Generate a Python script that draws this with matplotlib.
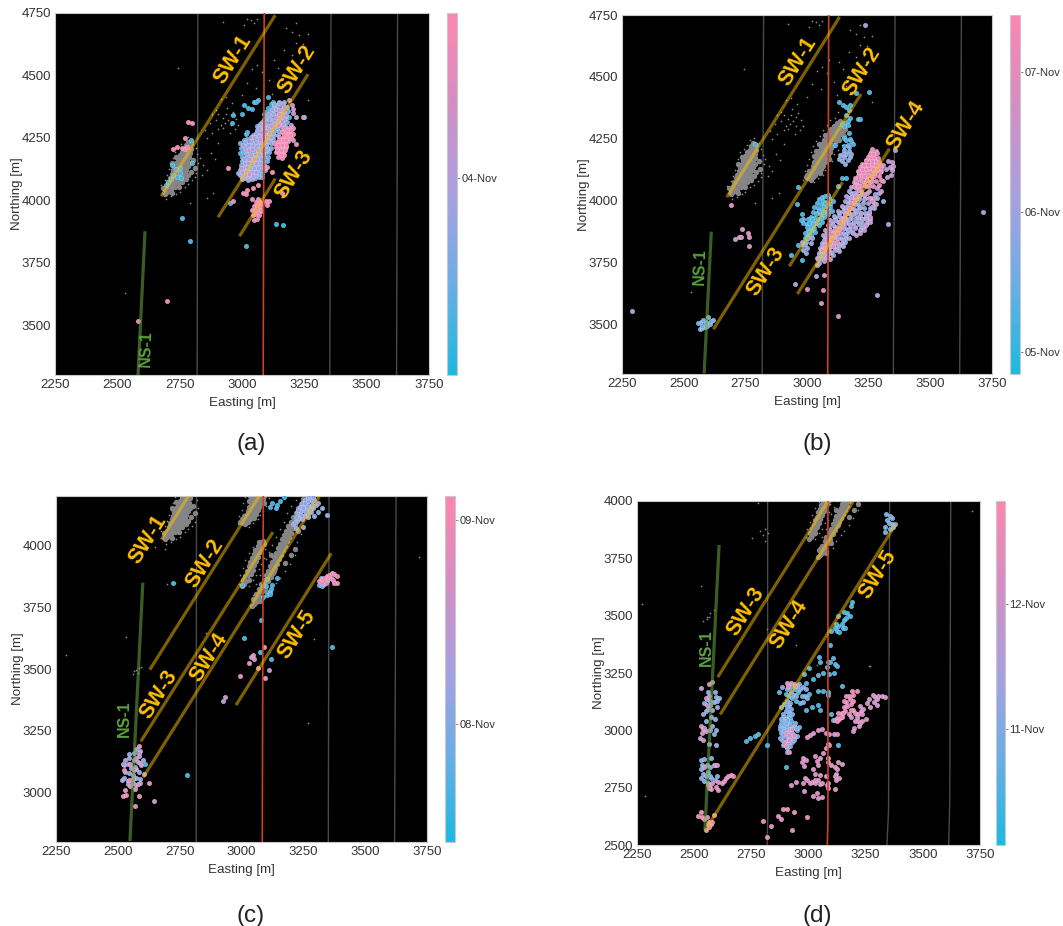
import matplotlib
matplotlib.use("Agg")
import matplotlib.pyplot as plt
from matplotlib.colors import LinearSegmentedColormap, Normalize
from matplotlib.cm import ScalarMappable

plt.rcParams['font.family'] = ['Liberation Sans', 'DejaVu Sans']
W, H = 1063, 926

# earlier events, drawn as small grey dots
grey_sw1 = [(2692,4040),(2700,4035),(2698,4060),(2708,4052),(2715,4045),(2705,4075),(2716,4070),(2725,4062),(2732,4055),
    (2712,4090),(2722,4085),(2733,4078),(2742,4070),(2718,4105),(2730,4100),(2740,4092),(2750,4085),(2725,4120),(2736,4115),
    (2746,4108),(2756,4100),(2765,4095),(2728,4135),(2740,4130),(2750,4122),(2760,4115),(2770,4108),(2735,4150),(2746,4145),
    (2756,4138),(2766,4130),(2776,4122),(2742,4165),(2752,4160),(2762,4152),(2772,4145),(2782,4138),(2750,4180),(2760,4172),
    (2770,4166),(2780,4158),(2790,4150),(2758,4195),(2768,4188),(2778,4180),(2788,4172),(2770,4205),(2780,4198),(2790,4190),
    (2775,4220),(2785,4212),(2795,4205),(2782,4232),(2795,4225),(2690,4025),(2685,4050),(2720,4030),(2748,4055),(2775,4085),
    (2795,4115),(2805,4160),(2735,4175),(2720,4150),(2810,4130),(2785,4100),(2758,4075)]
grey_sw1_fringe = [(2680,4030),(2675,4060),(2690,4080),(2700,4100),(2708,4125),(2715,4145),(2722,4170),(2730,4195),(2745,4210),(2755,4225),(2768,4245),
    (2785,4255),(2805,4235),(2815,4210),(2820,4185),(2825,4150),(2812,4095),(2800,4080),(2785,4065),(2770,4055),(2750,4035),(2735,4025),(2715,4015),(2695,4005)]
grey_far = [(2830,4170),(2845,4140),(2860,4120),(2875,4190),(2890,4165),(2815,4110),(2840,4100),(2905,4230),(2860,4250),(2850,4280),
    (2880,4270),(2870,4310),(2895,4320),(2905,4285),(2915,4300),(2925,4330),(2935,4345),(2945,4320),(2955,4300),(2925,4290),
    (2940,4370),(2955,4340),(2965,4355),(2975,4325),(2960,4390),(2915,4405),(2895,4360),(2985,4300),(2935,4415),(2950,4270),
    (2880,4345),(2905,4345),(2930,4310),(2970,4285),(2885,4030),(2860,4010),(2790,3990),(2745,4530)]
grey_top = [(2925,4715),(3020,4725),(3035,4720),(3050,4710),(3060,4725),(3010,4700),(3175,4690),(3215,4710),(3200,4675),
    (3230,4660),(3265,4665),(3215,4630),(3245,4625),(3170,4600),(3130,4560),(3060,4540),(3040,4525),(3080,4515),(3110,4480),
    (3020,4470),(3000,4420),(3145,4530),(3185,4520),(3240,4560),(3055,4450),(3090,4570),(3160,4465),(3120,4425),(3200,4580),(2530,3630),(3265,4400)]
grey_sw2 = [(3005,4090),(3015,4085),(3025,4095),(3012,4105),(3022,4110),(3033,4105),(3020,4125),(3030,4122),(3042,4118),(3052,4112),
    (3025,4140),(3036,4138),(3048,4132),(3058,4128),(3030,4155),(3042,4152),(3053,4148),(3065,4142),(3038,4170),(3050,4166),
    (3060,4160),(3072,4155),(3042,4185),(3055,4180),(3066,4175),(3078,4170),(3050,4200),(3062,4195),(3074,4190),(3085,4183),
    (3055,4215),(3068,4210),(3080,4205),(3092,4198),(3062,4230),(3074,4225),(3086,4220),(3098,4212),(3070,4245),(3082,4240),
    (3094,4234),(3106,4226),(3080,4260),(3092,4255),(3104,4248),(3116,4240),(3088,4275),(3100,4268),(3112,4262),(3124,4255),
    (3098,4288),(3110,4282),(3122,4275),(3134,4268),(3108,4300),(3120,4295),(3132,4288),(3144,4280),(3120,4312),(3132,4306),
    (3144,4300),(3155,4290),(3135,4322),(3148,4315),(3160,4308),(3048,4125),(3010,4120),(3000,4105),(3030,4180),(3070,4170),
    (3090,4170),(3110,4225),(3050,4230),(3075,4265),(3128,4245),(3150,4262),(3035,4200),(2995,4095)]
grey_sw2_fringe = [(2985,4085),(2990,4120),(3000,4145),(3008,4170),(3015,4195),(3025,4220),(3038,4240),(3052,4262),(3065,4285),(3082,4305),(3095,4325),(3115,4335),(3125,4360),
    (3170,4330),(3175,4300),(3165,4275),(3155,4240),(3140,4225),(3125,4205),(3110,4190),(3100,4160),(3085,4140),(3075,4125),(3065,4105),(3045,4090),(3030,4075)]
grey_sw3 = [(3002,3835),(3012,3845),(3008,3860),(3020,3858),(3030,3862),(3016,3878),(3028,3880),(3038,3885),(3022,3895),(3034,3900),
    (3045,3902),(3030,3915),(3042,3918),(3052,3922),(3036,3932),(3048,3935),(3060,3938),(3042,3950),(3054,3952),(3066,3955),
    (3050,3966),(3062,3970),(3074,3972),(3056,3982),(3068,3986),(3080,3988),(3065,3998),(3078,4002),(3090,4005),(3072,4012),(3085,4018)]
grey_sw4 = [(3042,3755),(3050,3765),(3058,3772),(3048,3785),(3060,3788),(3070,3795),(3060,3805),(3072,3810),(3084,3815),(3070,3825),
    (3084,3830),(3096,3835),(3078,3845),(3092,3850),(3106,3855),(3090,3862),(3104,3868),(3118,3872),(3098,3880),(3112,3886),
    (3126,3890),(3106,3898),(3120,3904),(3134,3908),(3114,3916),(3128,3922),(3142,3926),(3122,3934),(3136,3940),(3150,3944),
    (3132,3952),(3146,3958),(3160,3962),(3140,3970),(3154,3976),(3168,3980),(3148,3988),(3162,3994),(3176,3998),(3156,4006),
    (3170,4012),(3184,4016),(3164,4024),(3178,4030),(3192,4034),(3172,4042),(3186,4048),(3200,4052),(3180,4060),(3194,4066),
    (3208,4070),(3190,4078),(3204,4084),(3218,4088),(3200,4096),(3214,4102),(3228,4106),(3210,4114),(3224,4120),(3238,4124),
    (3220,4132),(3234,4138),(3248,4142),(3230,4150),(3244,4156),(3258,4160),(3240,4168),(3254,4174),(3268,4178),(3250,4186),
    (3264,4192),(3278,4196),(3130,3895),(3175,3930),(3200,3960),(3215,3985),(3100,3815),(3075,3775),(3150,3990),(3120,3960),(3230,4060)]
grey_sw34_fringe = [(2990,3845),(2995,3880),(3005,3910),(3015,3940),(3030,3970),(3045,3995),(3095,3985),(3090,3950),(3080,3925),(3070,3905),(3058,3880),(3045,3860),
    (3030,3835),(3035,3760),(3045,3800),(3060,3845),(3075,3880),(3085,3915),(3100,3945),(3110,3975),(3125,4000),(3140,4035),(3155,4065),(3170,4095),(3185,4130),
    (3200,4160),(3220,4185),(3235,4205),(3290,4175),(3280,4145),(3265,4110),(3250,4080),(3240,4045),(3225,4015),(3215,3960),(3195,3925),(3175,3895),(3155,3870),(3140,3850),(3120,3825),(3105,3795),(3085,3780)]
grey_c_extra = [(2535,3630),(2290,3555),(2730,3850),(2700,3845),(2565,3490),(2575,3495),(2585,3505),(2595,3510),(2560,3480),(2580,3485),
    (3267,3280),(3718,3955),(3295,3620),(2855,3645),(2690,3985),(2650,3995)]
grey_d_extra = [(2270,3550),(2285,2715),(2530,3630),(2540,3475),(2555,3485),(2565,3495),(2570,3510),(2585,3525),(2555,3495),(2810,3880),(2825,3860),
    (2790,3870),(2755,3840),(2800,3850),(2810,3825),(3267,3280),(2820,3440),(2945,3370),(2920,3555),(3265,3280),(3035,3285),(3715,3955),(2780,3990)]

# (a) coloured events
a_main = [(3000,4085),(3012,4088),(3024,4082),(3040,4086),(2992,4100),(3005,4098),(3018,4102),(3030,4100),(3045,4097),(3058,4103),
    (3000,4115),(3015,4117),(3028,4113),(3042,4116),(3055,4114),(3005,4130),(3020,4132),(3035,4128),(3050,4131),(3065,4129),
    (3012,4150),(3025,4148),(3040,4152),(3056,4149),(3072,4151),(3010,4165),(3030,4167),(3045,4163),(3060,4166),(3078,4164),
    (3018,4185),(3035,4183),(3052,4187),(3068,4184),(3085,4186),(3015,4200),(3030,4202),(3048,4198),(3065,4201),(3082,4199),(3098,4203),
    (3005,4220),(3025,4222),(3042,4218),(3060,4221),(3078,4219),(3095,4222),(3012,4235),(3035,4237),(3055,4233),(3072,4236),(3090,4234),(3105,4238),
    (3035,4255),(3050,4253),(3068,4257),(3085,4254),(3102,4256),(3118,4252),(3055,4270),(3075,4272),(3092,4268),(3110,4271),(3125,4269),
    (3070,4290),(3088,4288),(3105,4292),(3122,4289),(3140,4291),(3072,4305),(3090,4307),(3108,4303),(3128,4306),(3148,4304),(3165,4307),
    (3090,4325),(3110,4327),(3130,4323),(3150,4326),(3170,4324),(3105,4345),(3125,4347),(3142,4343),(3160,4346),(3120,4365),(3135,4367),(3155,4363),(3130,4385),(3148,4388)]
a_fill = [(2998,4092),(3034,4092),(3052,4091),(3068,4094),(3080,4092),(2985,4108),(3010,4109),(3024,4107),(3038,4108),(3052,4106),(3068,4109),(3082,4107),
    (2990,4122),(3008,4123),(3022,4121),(3036,4122),(3049,4124),(3062,4121),(3078,4123),(3092,4122),(2995,4140),(3012,4141),(3028,4139),(3043,4140),(3058,4142),(3074,4139),(3090,4140),
    (2998,4158),(3018,4157),(3034,4159),(3050,4158),(3066,4156),(3084,4158),(3100,4159),(3000,4175),(3022,4176),(3040,4174),(3056,4175),(3072,4177),(3090,4174),(3105,4175),
    (3005,4192),(3026,4193),(3044,4191),(3060,4192),(3076,4194),(3092,4191),(3108,4192),(2995,4210),(3012,4211),(3034,4209),(3054,4210),(3070,4212),(3088,4209),(3106,4210),(3116,4211),
    (2990,4228),(3016,4229),(3032,4227),(3050,4228),(3068,4230),(3086,4227),(3100,4228),(3118,4229),(3020,4245),(3042,4246),(3062,4244),(3078,4245),(3094,4247),(3112,4244),(3125,4245),
    (3045,4262),(3060,4263),(3078,4261),(3095,4262),(3110,4264),(3130,4261),(3145,4262),(3060,4280),(3082,4281),(3100,4279),(3118,4280),(3135,4282),(3150,4279),(3165,4280),
    (3062,4298),(3080,4299),(3098,4297),(3116,4298),(3136,4300),(3155,4297),(3172,4298),(3080,4315),(3100,4316),(3120,4314),(3140,4315),(3160,4317),(3180,4314),
    (3098,4335),(3118,4336),(3140,4334),(3158,4335),(3178,4337),(3112,4355),(3130,4356),(3150,4354),(3170,4355),(3185,4357),(3128,4375),(3145,4376),(3165,4374),(3180,4375),(3150,4395),(3170,4393)]
a_mauve = [(3030,4105),(3050,4165),(3040,4205),(3072,4245),(3095,4278),(3115,4298),(3135,4335),(3150,4360),(3165,4385),(3175,4340),(3160,4318),
    (3190,4400),(3200,4380),(3205,4365),(3203,4350),(3195,4300),(3205,4290),(3215,4335),(3245,4335),(3205,4240),(2995,4130),(3170,4375)]
a_pink = [(3135,4195),(3150,4190),(3165,4195),(3135,4215),(3150,4212),(3165,4210),(3178,4215),(3140,4235),(3155,4232),(3170,4230),(3185,4238),
    (3150,4255),(3165,4250),(3180,4255),(3195,4250),(3160,4272),(3175,4270),(3190,4272),(3205,4265),(3170,4290),(3185,4288),(3145,4175),(3160,4170),(3170,4180),
    (3142,4200),(3158,4202),(3172,4200),(3145,4222),(3160,4222),(3175,4222),(3148,4243),(3163,4241),(3178,4243),(3192,4262),(3170,4260),(3183,4280),(3198,4280),(3155,4180),
    (3130,4230),(3150,4345),(3145,4300),(3100,4135),(3120,4115),(3090,4130),(3065,4060),(3045,4050),(3020,4040),(3005,4030),(2965,3995),(3015,4025),(2945,4130),(3160,4030),(3215,4225)]
a_pink2 = [(3050,3920),(3060,3925),(3045,3940),(3055,3945),(3068,3940),(3040,3960),(3052,3962),(3065,3960),(3078,3955),(3048,3978),(3060,3980),(3072,3975),
    (3058,3992),(3070,3995),(3082,3990),(3065,4005),(3095,3995),(3110,3995),(3100,3982),(3075,3960),(2725,4205),(2740,4215),(2760,4210),(2770,4205),(2785,4315),(2800,4308),(2780,4215),(2770,4250)]
a_iso_pink = [(2700,3595),(2583,3515),(3040,4005)]
a_sky = [(2695,4060),(2705,4075),(2715,4085),(2725,4100),(2740,4095),(2755,4090),(2750,4110),(2735,4125),(2720,4140),(2750,4130),(2800,4150),(2795,4240),
    (2950,3990),(2760,3928),(2792,3838),(3015,3815),(3135,3905),(3165,3900),(3105,4415),(3065,4400),(3050,4395),(3058,4395),(3025,4370),(3010,4380),(3040,4365),(3000,4345),(2965,4340),(2960,4310),
    (3070,4260),(3015,4265),(3020,4275),(3010,4240),(2990,4190),(3080,4310),(3090,4345),(3248,4335)]
a_blue = [(3095,4355),(3105,4370),(3115,4385),(3125,4395),(3135,4380),(3150,4330),(3165,4325),(3175,4330),(3188,4335),(3110,4340),(3120,4320)]

# (b) coloured events
b_sw3 = [(2985,3820),(2995,3835),(2990,3850),(3005,3848),(3000,3865),(3015,3862),(3005,3880),(3020,3880),(3032,3875),(2985,3910),(3000,3905),(3015,3895),(3030,3890),
    (2985,3925),(3005,3925),(3020,3915),(3035,3908),(3048,3900),(3015,3935),(3030,3930),(3045,3925),(3060,3915),(3025,3955),(3040,3950),(3055,3945),(3070,3935),
    (3030,3975),(3045,3970),(3060,3965),(3075,3955),(3085,3945),(3040,3990),(3055,3985),(3070,3980),(3085,3970),(3100,3960),(3050,4005),(3065,4000),(3080,3995),(3095,3985),
    (3060,4015),(3075,4018),(3090,4010),(3105,4000),(3085,4022),(2980,3945),(2975,3920),(2960,3985),(2935,3780),(2965,3820),(2980,3760),(2965,4055),
    (3000,3895),(3010,3910),(3025,3905),(3040,3915),(3055,3930),(3070,3945),(3085,3960),(3065,3955),(3050,3960),(3035,3945),(3020,3925),(3010,3875),(2998,3850),(2990,3870),(3075,3990),(3095,3975)]
b_sw3_peri = [(2985,3800),(3000,3810),(3015,3830),(2995,3790),(3020,3850),(2990,3825)]
b_main = [(3040,3740),(3050,3750),(3045,3765),(3060,3765),(3070,3755),(3050,3780),(3065,3782),(3080,3775),(3055,3800),(3070,3800),(3090,3790),(3105,3780),
    (3060,3820),(3075,3820),(3095,3815),(3115,3800),(3130,3795),(3070,3840),(3090,3840),(3110,3830),(3130,3820),(3145,3815),(3065,3860),(3085,3860),(3105,3855),(3125,3850),(3145,3840),
    (3075,3880),(3095,3880),(3115,3875),(3135,3870),(3155,3860),(3170,3850),(3085,3900),(3105,3900),(3125,3895),(3145,3890),(3165,3880),(3185,3870),(3095,3920),(3115,3920),(3135,3915),
    (3155,3910),(3175,3900),(3195,3890),(3215,3880),(3110,3940),(3130,3940),(3150,3935),(3170,3925),(3190,3915),(3210,3905),(3230,3895),(3125,3960),(3145,3960),(3165,3950),(3185,3945),
    (3205,3935),(3225,3925),(3140,3980),(3160,3975),(3180,3970),(3200,3960),(3220,3950),(3240,3940),(3155,4000),(3175,3995),(3195,3985),(3215,3975),(3160,4020),(3180,4015),(3200,4005),
    (3170,4040),(3190,4030),(3210,4020),(3230,4005),(3180,4055),(3200,4050),(3220,4040),(3190,4075),(3210,4065)]
b_fill = [(3042,3770),(3055,3772),(3075,3768),(3048,3790),(3062,3792),(3078,3788),(3098,3791),(3052,3810),(3068,3812),(3088,3808),(3108,3811),(3125,3809),
    (3060,3830),(3082,3832),(3104,3828),(3122,3831),(3140,3829),(3155,3832),(3072,3850),(3095,3852),(3116,3848),(3136,3851),(3158,3849),(3082,3870),(3104,3872),(3125,3868),(3146,3871),(3164,3869),(3182,3872),
    (3090,3890),(3112,3892),(3135,3888),(3156,3891),(3175,3889),(3195,3892),(3220,3890),(3100,3910),(3125,3912),(3146,3908),(3168,3911),(3186,3909),(3205,3912),(3225,3910),(3245,3908),
    (3115,3930),(3138,3932),(3160,3928),(3180,3931),(3200,3929),(3220,3932),(3240,3930),(3255,3928),(3130,3950),(3155,3952),(3176,3948),(3195,3951),(3215,3949),(3235,3952),(3252,3950),
    (3148,3970),(3170,3972),(3190,3968),(3210,3971),(3232,3969),(3255,3972),(3270,3970),(3165,3990),(3185,3992),(3205,3988),(3228,3991),(3248,3989),(3270,3992),
    (3170,4010),(3190,4012),(3212,4008),(3235,4011),(3260,4009),(3285,4012),(3178,4030),(3200,4032),(3222,4028),(3245,4031),(3275,4029)]
b_main_pink = [(3060,3800),(3075,3810),(3085,3825),(3095,3830),(3085,3800),(3100,3845),(3110,3860),(3120,3870),(3130,3885),(3105,3815),(3120,3835),(3140,3905),(3150,3925),
    (3165,3960),(3180,3990),(3195,4020),(3210,4045),(3220,4060),(3200,4070),(3215,4085),(3230,4075),(3240,4060),(3195,4090),(3210,4105),(3225,4100),(3240,4090),(3255,4075),
    (3205,4120),(3220,4120),(3235,4115),(3250,4105),(3265,4095),(3215,4135),(3230,4135),(3245,4130),(3260,4120),(3275,4110),(3225,4150),(3240,4150),(3255,4145),(3270,4135),(3285,4125),
    (3240,4165),(3255,4165),(3270,4155),(3285,4145),(3250,4180),(3265,4180),(3280,4170),(3260,4195),(3272,4190),(3265,4208),(3278,4200),(3230,4025),(3250,4010),(3265,4000),(3250,4040),
    (3190,4060),(3205,4060),(3235,4062),(3250,4058),(3268,4060),(3290,4062),(3200,4080),(3222,4080),(3245,4082),(3262,4078),(3280,4080),(3300,4082),(3205,4100),(3232,4100),(3248,4102),(3270,4098),(3290,4100),
    (3212,4115),(3228,4115),(3255,4117),(3272,4113),(3295,4115),(3222,4130),(3238,4130),(3252,4132),(3268,4128),(3282,4130),(3300,4132),(3232,4145),(3248,4145),(3262,4147),(3278,4143),(3295,4145),
    (3240,4160),(3262,4160),(3278,4162),(3292,4158),(3248,4175),(3258,4175),(3272,4177),(3288,4173),(3255,4190),(3268,4190),(3282,4192),
    (3080,3840),(3100,3865),(3115,3885),(3135,3915),(3155,3945),(3170,3970),(3190,4000)]
b_side = [(3200,3860),(3215,3870),(3230,3880),(3240,3900),(3255,3915),(3240,3925),(3255,3935),(3250,3955),(3265,3975),(3280,3985),(3270,4010),(3290,4030),(3300,4040),(3285,4050),
    (3310,4080),(3325,4095),(3340,4105),(3345,4125),(3335,4135),(3350,4140),(3310,4145),(3320,4130),(3300,4120),(3330,4160),(3345,4155)]
b_top = [(3130,4400),(3145,4385),(3160,4380),(3175,4385),(3170,4365),(3160,4345),(3175,4335),(3165,4320),(3150,4300),(3165,4305),(3140,4310),(3170,4275),(3150,4255),
    (3160,4245),(3175,4250),(3185,4230),(3170,4215),(3150,4220),(3205,4330),(3215,4330),(3250,4440),(3200,4435),(3180,4240),(2790,4230),(3115,4225),(3140,4090),(3160,4090),(3125,4060)]
b_small = [(3130,4170),(3140,4160),(3150,4175),(3160,4190),(3170,4200),(3155,4150),(3165,4165),(3175,4175),(3135,4185),(3145,4190),(3150,4205),(3180,4190),(3165,4225)]
b_ns = [(2565,3480),(2575,3485),(2585,3490),(2595,3495),(2605,3500),(2570,3510),(2575,3495),(2590,3510),(2560,3505),(2580,3520),(2600,3530),(2620,3520),(2590,3505),(2610,3515)]
b_iso_peri = [(2290,3555),(3235,4710),(3715,3955),(3330,3905),(3285,3620),(2950,3665),(3035,3695),(3355,4205),(2707,3845),(3310,4000),(2980,3835)]
b_iso_pink = [(2690,3982),(2723,3855),(2732,3855),(2737,3885),(2760,3870),(2765,3855),(2763,3815),(3125,3535),(3055,3585),(3065,3640),(3000,3645),(3070,3700),(3092,3765)]

# (c) coloured events
c_ns = [(2515,3050),(2525,3060),(2540,3045),(2530,3085),(2545,3080),(2560,3070),(2575,3060),(2590,3055),(2525,3110),(2540,3115),(2555,3100),(2575,3095),(2595,3110),
    (2530,3130),(2545,3140),(2565,3130),(2580,3125),(2600,3130),(2545,3155),(2565,3160),(2585,3150),(2590,3170),(2575,3175),(2540,3035),(2560,3040),(2575,3030),(2590,3040),(2570,3105),(2585,3085)]
c_ns_pink = [(2520,2985),(2535,2990),(2530,3010),(2550,3025),(2570,3015),(2580,3035),(2525,3090),(2585,2985),(2570,2945),(2625,3040),(2585,3190),(2550,3115),(2565,3090),(2575,3140),(2590,3120),(2545,3050)]
c_iso_mauve = [(2645,2965),(2935,3385),(2925,3370),(3110,3495),(3040,3550),(3050,3540),(2585,3160),(2605,3075),(2560,3055),(2520,3115)]
c_iso_pink = [(2995,3470),(3030,3525),(3065,3505),(3090,3590),(3095,3465),(3045,3555)]
c_iso_blue = [(2780,3070),(3120,3540),(3075,3570),(3010,3625),(3080,3700),(3365,3590),(2725,3850),(2610,3115),(3000,3840)]
c_low = [(3085,3790),(3105,3800),(3115,3810),(3120,3825),(3100,3835),(3085,3840),(3125,3840),(3145,3870),(3105,3865),(3115,3805)]
c_top_blue = [(3115,4155),(3140,4150),(3145,4165),(3155,4180),(3170,4195),(3125,4170)]
c_top = [(3210,4085),(3225,4100),(3235,4120),(3245,4105),(3225,4135),(3240,4140),(3255,4125),(3270,4115),(3235,4155),(3250,4160),(3265,4145),(3280,4135),(3245,4170),(3260,4175),(3275,4160),(3290,4150),
    (3255,4185),(3270,4190),(3285,4178),(3300,4165),(3275,4200),(3295,4185),(3325,4150),(3345,4125),(3310,4135),(3295,4120),(3220,4070),(3250,4075),(3310,4170),(3280,4210),
    (3215,4095),(3230,4110),(3250,4115),(3260,4135),(3240,4125),(3250,4150),(3270,4125),(3265,4160),(3280,4150),(3255,4170),(3270,4180),(3285,4165),(3290,4195),(3230,4145),(3220,4115),(3275,4145)]
c_sw5 = [(3315,3855),(3325,3865),(3335,3870),(3345,3875),(3355,3880),(3365,3890),(3330,3850),(3340,3850),(3350,3865),(3360,3870),(3375,3885),(3385,3875),(3370,3860),(3385,3850),(3375,3850)]
c_sw5_blue = [(3315,3840),(3325,3835),(3335,3845),(3345,3855),(3320,3870)]

# (d) coloured events
d_main_blue = [(2880,3100),(2895,3115),(2905,3130),(2915,3150),(2930,3140),(2945,3130),(2925,3165),(2940,3180),(2920,3190),(2935,3200),(2915,3080),(2925,3095),(2890,3070),(2905,3060),(2920,3055),
    (2895,3040),(2910,3035),(2925,3040),(2880,3030),(2955,3165),(2965,3120),(2970,3150),(2895,3020),(2915,3015),(2935,3020),(2950,3000),(2960,3015)]
d_main = [(2885,3010),(2900,3000),(2915,2995),(2930,2990),(2880,2990),(2895,2975),(2910,2970),(2925,2965),(2885,2960),(2900,2950),(2915,2945),(2930,2950),(2905,2925),(2920,2930),(2900,3085),(2915,3110),(2905,2905),
    (2940,2970),(2950,2975),(2890,2935),(2960,3200),(2975,3190),(2985,3150),(2990,3180),(2965,3180),(2995,3140),(2975,3125),(2950,3195),(2905,3180),(2885,3190),(2905,3020),(2890,3005),(2875,2965),
    (2890,3060),(2900,3050),(2915,3070),(2930,3070),(2905,3100),(2920,3120),(2935,3155),(2945,3150),(2900,3030),(2880,3050),(2875,3020),(2895,2995),(2925,3015),(2940,3030),(2945,3010),(2905,2990),(2920,2975),(2935,2960),(2890,2985),(2875,3005),(2905,3045),(2920,3025)]
d_main_pink = [(2900,2990),(2915,2980),(2905,2960),(2920,3005),(2895,2945),(2915,2960),(2930,3005),(2910,3195),(2925,3205),(2940,3195),(2905,3205),(2915,2905),(2900,2930),(2935,2980)]
d_blue_up = [(3100,3435),(3115,3445),(3125,3435),(3135,3430),(3150,3445),(3160,3445),(3130,3455),(3145,3465),(3155,3480),(3165,3490),(3180,3500),(3170,3510),(3155,3515),(3130,3500),(3190,3560),(3185,3540),(3120,3465),
    (3095,3370),(3045,3320),(3050,3300),(3065,3250),(3085,3300),(3095,3300),(3105,3315),(3115,3290),(3125,3280),(3110,3250),(3090,3245),(3080,3275),(3040,3240),(3020,3225),(3000,3270),(2980,3245),(2990,3205),(3000,3160),(3040,3170),(3065,3170),
    (3085,3165),(3145,3195),(3040,3110),(3015,3100),(2990,3090),(3085,3155),(3100,3070),(3105,3045),(3050,3090),(2780,2985),(2765,2975),(2745,2965),(2725,2955),(2820,2935),(3130,2935),(2870,3165),(2900,2840),(2900,3160)]
d_peach = [(3115,3045),(3125,3055),(3135,3050),(3145,3060),(3130,3075),(3145,3075),(3160,3085),(3175,3070),(3155,3100),(3170,3105),(3185,3115),(3165,3125),(3180,3135),(3195,3130),(3155,3130),(3175,3150),(3195,3155),(3210,3170),(3190,3170),
    (3165,3150),(3150,3075),(3125,3040),(3140,3060),(3195,3090),(3205,3040),(3220,3020),(3235,3040),(3215,3070),(3230,3085),(3205,3075),(3185,3090)]
d_chain = [(3200,3010),(3215,3040),(3225,3030),(3210,3060),(3235,3070),(3240,3095),(3225,3105),(3270,3100),(3255,3120),(3265,3135),(3280,3155),(3290,3145),(3300,3135),(3285,3125),(3305,3150),(3320,3150),(3335,3145),(3300,3110),(3185,3060),(3250,3050),(3195,2995)]
d_ns1 = [(2540,3070),(2550,3085),(2560,3095),(2570,3110),(2545,3120),(2555,3135),(2570,3130),(2585,3125),(2595,3145),(2610,3140),(2600,3130),(2575,3060),(2590,3050),(2580,3020),(2595,3000),(2585,2985),(2570,3000),(2565,2940),(2595,2935),(2550,3040),(2600,3100),(2590,3165),(2560,3165)]
d_ns1_pink = [(2530,3020),(2540,3005),(2550,2995),(2545,3010),(2535,2990),(2525,2965),(2565,3200),(2580,3210),(2530,3185),(2550,3140),(2565,3150),(2540,2960),(2555,3110),(2580,3090)]
d_ns2 = [(2530,2870),(2545,2875),(2535,2850),(2530,2830),(2540,2810),(2550,2800),(2560,2820),(2570,2840),(2585,2850),(2555,2850),(2575,2880),(2545,2780),(2560,2770),(2575,2790),(2590,2785),(2600,2800),(2530,2790),(2570,2800)]
d_ns2_pink = [(2545,2840),(2560,2760),(2570,2760),(2575,2745),(2565,2750),(2590,2850),(2600,2850),(2580,2770)]
d_low = [(2515,2625),(2530,2645),(2535,2620),(2545,2615),(2555,2620),(2565,2600),(2575,2590),(2560,2590),(2580,2600),(2585,2630),(2550,2565),(2565,2580),
    (2620,2770),(2630,2780),(2640,2790),(2650,2800),(2660,2805),(2670,2800),(2605,2775),(2605,2740),(2595,2755),
    (2905,2655),(2890,2655),(2935,2645),(2865,2625),(2880,2615),(2995,2620),(2800,2605),(2835,2585),(2820,2535),(2930,2565)]
d_scatter = [(2975,2880),(2970,2860),(2980,2845),(2990,2870),(3030,2890),(3035,2865),(3050,2880),(3065,2900),(3085,2940),(3075,2925),(3090,2935),(3040,2850),(3020,2830),(3030,2810),(3050,2805),(3085,2880),(3085,2860),(3100,2850),
    (3115,2840),(3125,2830),(3130,2860),(3145,2855),(3120,2785),(3135,2790),(3120,2810),(3115,2800),(2985,2790),(2995,2785),(3005,2770),(3015,2775),(3030,2770),(3040,2785),(3050,2765),(3060,2770),(3080,2760),(3085,2750),(3115,2745),
    (2925,2760),(2945,2775),(2975,2770),(2980,2735),(3020,2715),(3035,2725),(3040,2705),(3060,2710),(3030,2785),(3075,2990),(3090,2985),(3110,2985),(3125,2985),(3060,3005),(3040,3000),(3020,2990),(3005,2980),(2995,2970),(3075,2800),(3085,2770)]
d_top = [(3335,3885),(3355,3880),(3365,3900),(3345,3915),(3365,3925),(3340,3945),(3355,3935),(3380,3900),(3370,3885),(3350,3905),(3335,3865)]

cmap = LinearSegmentedColormap.from_list('days', ['#1CB9E1', '#6AAEE6', '#A9A0E0', '#D48EC4', '#FF85AE'])

panels = [
    dict(px=(55, 429, 13, 375), cb=(447, 457), ylim=(3300, 4750), yticks=[3500, 3750, 4000, 4250, 4500, 4750],
         days=(3.5, 4.42), dticks=[4], dlabels=['04-Nov'], cap='(a)', capx=251, capy=444,
         dense=[grey_sw1],
         grey=[grey_sw1_fringe, grey_far, grey_top],
         groups=[(a_sky, 3.62), (a_blue, 3.55), (a_fill, 3.76), (a_main, 3.95), (a_mauve, 4.12), (a_pink, 4.36), (a_pink2, 4.36), (a_iso_pink, 4.3)],
         sw=[((2676, 3133), (4016, 4741)), ((2904, 3265), (3932, 4505)), ((2990, 3134), (3856, 4087))],
         ns=((2583, 2611), (3300, 3876)),
         red=([3085, 3089], [3300, 4750]),
         wells=[([2820, 2823], [3300, 4750]), ([3352, 3357], [3300, 4750]), ([3620, 3624], [3300, 4750])],
         labels=[('SW-1', 2962, 4563), ('SW-2', 3221, 4522), ('SW-3', 3208, 4104)], nslabel=(2617, 3407, 88)),
    dict(px=(622, 992, 15, 374), cb=(1010, 1020), ylim=(3300, 4750), yticks=[3500, 3750, 4000, 4250, 4500, 4750],
         days=(4.84, 7.41), dticks=[5, 6, 7], dlabels=['05-Nov', '06-Nov', '07-Nov'], cap='(b)', capx=817, capy=444,
         dense=[grey_sw1, grey_sw2],
         grey=[grey_sw1_fringe, grey_sw2_fringe, grey_far, grey_top],
         groups=[(b_sw3, 5.2), (b_sw3_peri, 5.9), (b_top, 5.15), (b_small, 5.8), (b_ns, 5.6), (b_fill, 5.85), (b_main, 6.2), (b_side, 6.5), (b_main_pink, 7.05), (b_iso_peri, 6.0), (b_iso_pink, 6.9)],
         sw=[((2675, 3132), (4014, 4742)), ((2621, 3219), (3481, 4431)), ((2928, 3144), (3735, 4075)), ((2961, 3334), (3623, 4210))],
         ns=((2583, 2612), (3303, 3875)),
         red=([3084, 3088], [3300, 4750]),
         wells=[([2818, 2824], [3300, 4750]), ([3350, 3357], [3300, 4750]), ([3619, 3626], [3300, 4750])],
         labels=[('SW-1', 2965, 4563), ('SW-2', 3222, 4520), ('SW-3', 2835, 3714), ('SW-4', 3399, 4305)], nslabel=(2565, 3734, 88)),
    dict(px=(56, 427, 496, 842), cb=(445, 455), ylim=(2800, 4200), yticks=[3000, 3250, 3500, 3750, 4000],
         days=(7.42, 9.12), dticks=[8, 9], dlabels=['08-Nov', '09-Nov'], cap='(c)', capx=251, capy=916,
         dense=[grey_sw1, grey_sw2, grey_sw3, grey_sw4],
         grey=[grey_sw1_fringe, grey_sw2_fringe, grey_sw34_fringe, grey_c_extra],
         groups=[(c_ns, 8.15), (c_ns_pink, 8.95), (c_iso_mauve, 8.5), (c_iso_pink, 8.95), (c_iso_blue, 7.6), (c_low, 7.6), (c_top_blue, 7.6), (c_top, 8.1), (c_sw5_blue, 7.9), (c_sw5, 8.95)],
         sw=[((2676, 2788), (4024, 4204)), ((2629, 3074), (3497, 4204)), ((2593, 3127), (3207, 4054)), ((2602, 3314), (3061, 4197)), ((2978, 3363), (3354, 3968))],
         ns=((2549, 2601), (2804, 3849)),
         red=([3084, 3088], [2800, 4200]),
         wells=[([2817, 2818], [2800, 4200]), ([3351, 3354], [2800, 4200]), ([3619, 3625], [2800, 4200])],
         labels=[('SW-1', 2622, 4024), ('SW-2', 2852, 3927), ('SW-3', 2665, 3396), ('SW-4', 2868, 3545), ('SW-5', 3223, 3639)], nslabel=(2525, 3301, 90)),
    dict(px=(637, 980, 501, 845), cb=(996, 1005), ylim=(2500, 4000), yticks=[2500, 2750, 3000, 3250, 3500, 3750, 4000],
         days=(10.08, 12.82), dticks=[11, 12], dlabels=['11-Nov', '12-Nov'], cap='(d)', capx=817, capy=916,
         dense=[grey_sw3, grey_sw4],
         grey=[grey_sw34_fringe, grey_d_extra],
         groups=[(d_main_blue, 10.6), (d_blue_up, 10.45), (d_main, 11.0), (d_main_pink, 12.3), (d_peach, 12.5), (d_chain, 12.05), (d_ns1, 11.1), (d_ns1_pink, 12.0), (d_ns2, 11.0), (d_ns2_pink, 12.2), (d_low, 12.45), (d_scatter, 12.2), (d_top, 10.9)],
         sw=[((2603, 3084), (3232, 3997)), ((2614, 3195), (3069, 3997)), ((2547, 3380), (2562, 3897))],
         ns=((2547, 2609), (2565, 3808)),
         red=([3082, 3085, 3085], [2500, 2600, 4000]),
         wells=[([2819, 2822, 2821], [2500, 2620, 4000]), ([3343, 3350, 3355], [2500, 2650, 4000]), ([3613, 3618, 3622], [2500, 2700, 4000])],
         labels=[('SW-3', 2728, 3518), ('SW-4', 2913, 3463), ('SW-5', 3302, 3678)], nslabel=(2553, 3361, 90)),
]

fig = plt.figure(figsize=(W / 100, H / 100), dpi=100)
xticks = [2250, 2500, 2750, 3000, 3250, 3500, 3750]
text_col = '#333333'
edge_col = '#c8c8c8'

for p in panels:
    l, r, t, b = p['px']
    ax = fig.add_axes([l / W, 1 - b / H, (r - l) / W, (b - t) / H], facecolor='black')
    ax.set_xlim(2250, 3750)
    ax.set_ylim(*p['ylim'])
    ax.set_xticks(xticks)
    ax.set_yticks(p['yticks'])
    ax.tick_params(length=0, labelsize=9.5, labelcolor=text_col, pad=3)
    ax.set_xlabel('Easting [m]', fontsize=9.6, color=text_col, labelpad=4)
    ax.set_ylabel('Northing [m]', fontsize=9.6, color=text_col, labelpad=-1)
    for s in ax.spines.values():
        s.set_color(edge_col)

    for xs, ys in p['wells']:
        ax.plot(xs, ys, color='#4a4a4a', lw=1, zorder=1)
    for pts in p['dense']:
        ax.scatter([q[0] for q in pts], [q[1] for q in pts], s=15, color='#858585', lw=0, zorder=2)
    for pts in p['grey']:
        ax.scatter([q[0] for q in pts], [q[1] for q in pts], s=1.5, color='#8c8c8c', lw=0, zorder=2)

    norm = Normalize(*p['days'])
    for pts, day in p['groups']:
        ax.scatter([q[0] for q in pts], [q[1] for q in pts], s=11, color=cmap(norm(day)),
                   edgecolors='#ffffff80', linewidths=0.3, zorder=3)

    ax.plot(p['red'][0], p['red'][1], color='#C8431E', lw=1.2, zorder=4)
    for xs, ys in p['sw']:
        ax.plot(xs, ys, color='#FFC000', alpha=0.5, lw=2.3, solid_capstyle='butt', zorder=5)
    ax.plot(p['ns'][0], p['ns'][1], color='#6DAA45', alpha=0.55, lw=2.3, solid_capstyle='butt', zorder=5)

    for name, x, y in p['labels']:
        ax.text(x, y, name, color='#FFC000', fontsize=15.5, fontweight='bold', rotation=58,
                ha='center', va='center', rotation_mode='anchor', zorder=6)
    nx, ny, nrot = p['nslabel']
    ax.text(nx, ny, 'NS-1', color='#5AA03C', fontsize=11.5, fontweight='bold', rotation=nrot,
            ha='center', va='center', rotation_mode='anchor', zorder=6)

    c0, c1 = p['cb']
    cax = fig.add_axes([c0 / W, 1 - b / H, (c1 - c0) / W, (b - t) / H])
    cbar = fig.colorbar(ScalarMappable(norm=norm, cmap=cmap), cax=cax)
    cbar.set_ticks(p['dticks'])
    cbar.set_ticklabels(p['dlabels'])
    cbar.ax.tick_params(length=2, width=0.6, labelsize=8, labelcolor=text_col, color='#777777', pad=1)
    cbar.outline.set_edgecolor(edge_col)

    fig.text(p['capx'] / W, 1 - p['capy'] / H, p['cap'], fontsize=17.5, color='#222222', ha='center', va='center')

fig.savefig('out.png', dpi=100)
